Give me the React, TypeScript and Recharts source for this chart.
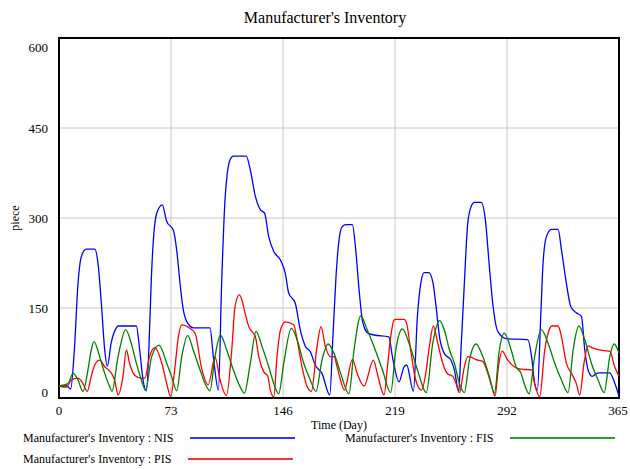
import React from 'react';
import { LineChart, Line, XAxis, YAxis, CartesianGrid, ReferenceArea } from 'recharts';

const xTicks = [0, 73, 146, 219, 292, 365];
const yTicks = [0, 150, 300, 450, 600];

const nisDays = [0, 5, 7.6, 10, 12.4, 14.5, 17.8, 23.3, 25.4, 27.6, 29.8, 31.5, 34, 37.4, 38.5, 50.4, 52.6, 54.8, 57, 58.7, 60.2, 61.5, 63.7, 67.3, 70.2, 74.5, 76.7, 78.9, 81, 84.3, 87.5, 98.4, 100.6, 103.9, 106, 108.2, 111.5, 113.6, 122, 124.7, 128, 131.2, 134, 136.7, 140, 144.3, 147.5, 149.7, 154, 157.3, 160.6, 163.8, 167, 171.4, 176.5, 178.5, 180.5, 182.5, 184.7, 186.9, 191.2, 193.4, 195.6, 197.7, 201, 205.3, 215, 217.3, 221.6, 224.9, 226.6, 231, 233.6, 235.8, 238, 241, 243.6, 245.8, 248, 251.2, 255.5, 257.7, 260.5, 262, 264.2, 266.4, 268.6, 270.7, 275.1, 277.9, 280.5, 282.7, 286, 291.4, 305.7, 308, 310, 311.8, 314, 315.5, 317.7, 321, 325.3, 327.5, 330.7, 333.6, 337.2, 340.5, 342.7, 344.8, 347.5, 351.4, 359, 362.2, 365];
const nisValues = [20, 20, 15, 80, 191, 235, 248, 248, 225, 158, 80, 53, 92, 117, 120, 120, 80, 30, 12, 90, 200, 263, 308, 322, 294, 280, 247, 191, 147, 123, 117, 117, 69, 13, 191, 330, 397, 403, 403, 380, 336, 314, 308, 269, 244, 230, 208, 175, 158, 113, 86, 77, 55, 41, 5, 100, 200, 263, 286, 289, 289, 247, 180, 130, 109, 105, 102, 69, 27, 52, 55, 11, 136, 191, 209, 209, 194, 152, 102, 74, 63, 47, 11, 80, 191, 291, 319, 326, 326, 297, 219, 158, 111, 99, 97, 69, 25, 13, 136, 225, 269, 281, 281, 247, 191, 152, 142, 136, 80, 47, 36, 42, 42, 25, 3];

const pisDays = [0, 4.8, 8, 12.4, 15.6, 18.4, 21, 23.3, 26.5, 29.8, 34, 36.3, 38.5, 41.7, 43.9, 46, 49.3, 53.7, 56, 59, 62.6, 67, 70.2, 72.8, 75.6, 77.8, 80, 85.4, 88.7, 93, 97.3, 101.7, 105, 109.1, 112.6, 114.7, 117.5, 119.3, 121.3, 123.7, 128, 130.2, 133.4, 136.2, 137.7, 140, 142.1, 144.3, 147.5, 153, 155.2, 158.4, 161.7, 164.5, 168.2, 170.8, 173.6, 176.9, 179.3, 181, 183.5, 186, 191.2, 194.5, 198.8, 204.9, 208, 211.9, 214, 216.2, 218.4, 219.5, 224.9, 226.6, 229.2, 232.5, 236.2, 239, 241.4, 244, 246.9, 250.1, 253.4, 256.7, 258.8, 261, 264.2, 266.4, 268.6, 271.8, 276.2, 279.5, 282.1, 284.2, 286.4, 288.8, 292.5, 296.8, 301.2, 308, 310, 313.3, 316.6, 319.9, 321, 325.3, 327.5, 330.7, 334, 337.2, 339.4, 342.2, 344.8, 348.1, 355.7, 359, 362.2, 365];
const pisValues = [20, 18, 30, 33, 24, 11, 36, 55, 63, 52, 42, 30, 5, 36, 80, 58, 38, 33, 33, 69, 84, 58, 24, 2, 52, 102, 122, 116, 108, 49, 22, 68, 30, 4, 80, 152, 172, 163, 141, 119, 102, 69, 44, 36, 13, 2, 69, 113, 127, 122, 97, 52, 19, 11, 86, 119, 86, 69, 69, 55, 30, 13, 64, 40, 20, 63, 35, 5, 50, 102, 130, 131, 131, 124, 80, 30, 13, 40, 86, 120, 91, 58, 40, 36, 24, 9, 52, 69, 68, 64, 61, 41, 19, 3, 52, 78, 63, 52, 48, 47, 24, 2, 80, 116, 120, 120, 102, 58, 41, 24, 5, 58, 87, 83, 79, 78, 52, 36];

const fisDays = [0, 5.9, 9.1, 12.4, 15.6, 18.9, 21, 22.8, 26.5, 29.8, 33, 34.5, 38.5, 43.5, 47.1, 50.4, 53.7, 56.4, 60.4, 65.2, 70.2, 73.4, 76.7, 80, 83.9, 87.5, 91.9, 95.2, 98.4, 101.7, 105.2, 109.3, 113.6, 118, 120.8, 124.7, 128.4, 132.3, 136.7, 140, 143.2, 146.5, 151.4, 155.2, 159.5, 163.8, 167.5, 171.4, 175.4, 179.3, 183.6, 189, 192.3, 196.7, 201, 205.3, 210.8, 216.2, 219.5, 223.8, 228.2, 233.6, 239.4, 243.6, 248, 251.2, 254.5, 257.7, 261, 264.2, 267.5, 271.8, 276.2, 280.5, 283.8, 287, 290.3, 294.7, 297.9, 301.2, 302.5, 306.4, 310, 314.4, 318.8, 323.1, 327.5, 331.8, 335.1, 338.8, 342.7, 347, 351.4, 355.3, 359, 361.8, 365];
const fisValues = [20, 24, 41, 30, 11, 47, 80, 94, 69, 41, 19, 11, 69, 114, 91, 58, 30, 13, 69, 88, 58, 36, 12, 69, 104, 80, 47, 24, 12, 69, 105, 80, 47, 19, 8, 58, 111, 86, 52, 24, 7, 58, 116, 97, 58, 30, 11, 63, 90, 74, 41, 7, 80, 137, 113, 86, 47, 9, 80, 115, 91, 47, 9, 91, 129, 113, 80, 58, 24, 9, 63, 90, 69, 36, 8, 80, 108, 80, 52, 41, 30, 7, 69, 114, 91, 58, 30, 9, 80, 120, 97, 58, 30, 9, 69, 90, 75];

const toRows = (days: number[], values: number[]) => days.map((d, i) => ({ day: d, v: values[i] }));
const nisData = toRows(nisDays, nisValues);
const pisData = toRows(pisDays, pisValues);
const fisData = toRows(fisDays, fisValues);

const font = '"Liberation Serif", "Times New Roman", serif';

const YTick = (props: any) => {
  const { x, y, payload } = props;
  let shift = 0;
  if (payload.value === 600) shift = 9;
  if (payload.value === 0) shift = -6;
  return (
    <text x={x} y={y + shift} textAnchor="end" dominantBaseline="central" fontSize={13} fontFamily={font} fill="#000">
      {payload.value}
    </text>
  );
};

const XTick = (props: any) => {
  const { x, y, payload } = props;
  return (
    <text x={x} y={y + 12} textAnchor="middle" dominantBaseline="central" fontSize={13} fontFamily={font} fill="#000">
      {payload.value}
    </text>
  );
};

const legendText: React.CSSProperties = { position: 'absolute', fontSize: 12, lineHeight: '12px', whiteSpace: 'nowrap' };

export default function App() {
  return (
    <div style={{ position: 'absolute', left: 0, top: 0, width: 630, height: 469, background: '#fff', fontFamily: font, color: '#000' }}>
      <div style={{ position: 'absolute', left: 0, top: 7, width: 650, textAlign: 'center', fontSize: 16, lineHeight: '22px' }}>
        Manufacturer's Inventory
      </div>
      <LineChart width={630} height={469} margin={{ top: 38, right: 11, bottom: 41, left: 19 }}>
        <CartesianGrid stroke="#c8c8c8" strokeWidth={1} />
        <XAxis
          type="number"
          dataKey="day"
          domain={[0, 365]}
          ticks={xTicks}
          allowDuplicatedCategory={false}
          axisLine={false}
          tickLine={false}
          tickSize={0}
          tickMargin={0}
          height={30}
          tick={<XTick />}
        />
        <YAxis
          type="number"
          domain={[0, 600]}
          ticks={yTicks}
          axisLine={false}
          tickLine={false}
          tickSize={0}
          tickMargin={11}
          width={40}
          tick={<YTick />}
        />
        <Line data={nisData} dataKey="v" type="monotone" stroke="#0000ff" strokeWidth={1.3} dot={false} isAnimationActive={false} />
        <Line data={pisData} dataKey="v" type="monotone" stroke="#ff0000" strokeWidth={1.3} dot={false} isAnimationActive={false} />
        <Line data={fisData} dataKey="v" type="monotone" stroke="#008000" strokeWidth={1.3} dot={false} isAnimationActive={false} />
        <ReferenceArea x1={0} x2={365} y1={0} y2={600} fill="none" stroke="#000" strokeWidth={2} />
      </LineChart>
      <div style={{ position: 'absolute', left: 0, top: 218, width: 30, height: 0 }}>
        <div style={{ position: 'absolute', left: -5, top: -6, width: 40, textAlign: 'center', fontSize: 12, lineHeight: '12px', transform: 'rotate(-90deg)' }}>
          piece
        </div>
      </div>
      <span style={{ position: 'absolute', left: 339, top: 419, transform: 'translateX(-50%)', fontSize: 12, lineHeight: '12px', whiteSpace: 'nowrap' }}>
        Time (Day)
      </span>
      <div style={{ ...legendText, left: 23, top: 432 }}>Manufacturer's Inventory : NIS</div>
      <div style={{ position: 'absolute', left: 190, top: 437, width: 105, height: 1.5, background: '#3333ff' }} />
      <div style={{ ...legendText, left: 345, top: 432 }}>Manufacturer's Inventory : FIS</div>
      <div style={{ position: 'absolute', left: 510, top: 437, width: 105, height: 1.5, background: '#339933' }} />
      <div style={{ ...legendText, left: 23, top: 453 }}>Manufacturer's Inventory : PIS</div>
      <div style={{ position: 'absolute', left: 188, top: 458, width: 105, height: 1.5, background: '#ff3333' }} />
    </div>
  );
}
